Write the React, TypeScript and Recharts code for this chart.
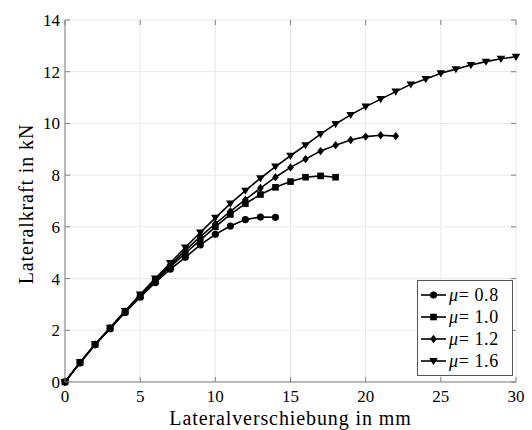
import { LineChart, Line, XAxis, YAxis, CartesianGrid, Legend } from 'recharts';

// displacement in mm (one sample per mm)
const displacement = [
  0, 1, 2, 3, 4, 5, 6, 7, 8, 9, 10, 11, 12, 13, 14, 15, 16, 17, 18, 19, 20, 21, 22, 23, 24, 25, 26, 27, 28, 29, 30,
];

// lateral force in kN per friction coefficient
const mu08 = [0, 0.74, 1.44, 2.06, 2.69, 3.28, 3.84, 4.36, 4.82, 5.3, 5.71, 6.03, 6.28, 6.38, 6.37];
const mu10 = [0, 0.75, 1.45, 2.08, 2.72, 3.32, 3.9, 4.45, 4.98, 5.49, 6.0, 6.48, 6.9, 7.25, 7.53, 7.75, 7.92, 7.97, 7.92];
const mu12 = [
  0, 0.75, 1.45, 2.09, 2.73, 3.35, 3.95, 4.52, 5.08, 5.62, 6.12, 6.6, 7.05, 7.5, 7.92, 8.3, 8.62, 8.93, 9.16, 9.36,
  9.49, 9.54, 9.51,
];
const mu16 = [
  0, 0.76, 1.46, 2.1, 2.75, 3.38, 4.0, 4.6, 5.2, 5.78, 6.35, 6.9, 7.4, 7.88, 8.33, 8.75, 9.16, 9.59, 9.98, 10.33,
  10.65, 10.94, 11.23, 11.51, 11.72, 11.94, 12.1, 12.26, 12.39, 12.5, 12.58,
];

const xTicks = [0, 5, 10, 15, 20, 25, 30];
const yTicks = [0, 2, 4, 6, 8, 10, 12, 14];

type Shape = 'circle' | 'square' | 'diamond' | 'triangle';

const series: { key: string; label: string; shape: Shape; values: number[] }[] = [
  { key: 'mu08', label: '0.8', shape: 'circle', values: mu08 },
  { key: 'mu10', label: '1.0', shape: 'square', values: mu10 },
  { key: 'mu12', label: '1.2', shape: 'diamond', values: mu12 },
  { key: 'mu16', label: '1.6', shape: 'triangle', values: mu16 },
];

const data = displacement.map((x, i) => {
  const row: Record<string, number | undefined> = { x };
  series.forEach((s) => {
    row[s.key] = s.values[i];
  });
  return row;
});

const FONT = "'Liberation Serif', 'DejaVu Serif', serif";
const AXIS = '#808080';
const PLOT = { left: 65, right: 516, top: 20, bottom: 382 };

function markerPath(shape: Shape, cx: number, cy: number) {
  switch (shape) {
    case 'circle':
      return <circle cx={cx} cy={cy} r={3.6} fill="#000" />;
    case 'square':
      return <rect x={cx - 3.3} y={cy - 3.3} width={6.6} height={6.6} fill="#000" />;
    case 'diamond':
      return <polygon points={`${cx},${cy - 4.2} ${cx + 3.3},${cy} ${cx},${cy + 4.2} ${cx - 3.3},${cy}`} fill="#000" />;
    default:
      return <polygon points={`${cx - 4.3},${cy - 3} ${cx + 4.3},${cy - 3} ${cx},${cy + 4.2}`} fill="#000" />;
  }
}

const makeDot = (shape: Shape) => (props: any) => {
  const { cx, cy, index } = props;
  if (cx == null || cy == null || Number.isNaN(cy)) return <g key={`e-${shape}-${index}`} />;
  return <g key={`d-${shape}-${index}`}>{markerPath(shape, cx, cy)}</g>;
};

function XTick(props: any) {
  const { x, payload } = props;
  return (
    <g>
      <line x1={x} x2={x} y1={PLOT.bottom} y2={PLOT.bottom - 5} stroke={AXIS} />
      <line x1={x} x2={x} y1={PLOT.top} y2={PLOT.top + 5} stroke={AXIS} />
      <text x={x} y={PLOT.bottom + 20} textAnchor="middle" style={{ fontFamily: FONT, fontSize: 17 }} fill="#000">
        {payload.value}
      </text>
    </g>
  );
}

function YTick(props: any) {
  const { y, payload } = props;
  return (
    <g>
      <line x1={PLOT.left} x2={PLOT.left + 5} y1={y} y2={y} stroke={AXIS} />
      <line x1={PLOT.right} x2={PLOT.right - 5} y1={y} y2={y} stroke={AXIS} />
      <text x={PLOT.left - 5} y={y + 6} textAnchor="end" style={{ fontFamily: FONT, fontSize: 17 }} fill="#000">
        {payload.value}
      </text>
    </g>
  );
}

function LegendBox() {
  return (
    <div
      style={{
        boxSizing: 'border-box',
        width: 96,
        height: 96,
        border: '1px solid #555',
        background: '#fff',
        paddingTop: 3,
        fontFamily: FONT,
        fontSize: 18,
        lineHeight: '22px',
      }}
    >
      {series.map((s) => (
        <div key={s.key} style={{ height: 22, display: 'flex', alignItems: 'center' }}>
          <svg width={29} height={16}>
            <line x1={3} x2={28} y1={8} y2={8} stroke="#000" strokeWidth={1.6} />
            {markerPath(s.shape, 15.5, 8)}
          </svg>
          <span style={{ marginLeft: 2, whiteSpace: 'nowrap', letterSpacing: 0.6 }}>
            <i>μ</i>= {s.label}
          </span>
        </div>
      ))}
    </div>
  );
}

export default function App() {
  return (
    <div style={{ position: 'absolute', left: 0, top: 0, width: 532, height: 430, background: '#fff' }}>
      <LineChart width={532} height={430} data={data} margin={{ top: 20, right: 16, bottom: 0, left: 0 }}>
        <CartesianGrid stroke="#e8e8e8" strokeWidth={1} />
        <XAxis
          dataKey="x"
          type="number"
          domain={[0, 30]}
          ticks={xTicks}
          height={48}
          stroke={AXIS}
          tickLine={false}
          tick={<XTick />}
          label={{
            content: (p: any) => (
              <text
                x={p.viewBox.x + p.viewBox.width / 2}
                y={p.viewBox.y + p.viewBox.height - 5}
                textAnchor="middle"
                style={{ fontFamily: FONT, fontSize: 20, letterSpacing: 0.9 }}
                fill="#000"
              >
                Lateralverschiebung in mm
              </text>
            ),
          }}
        />
        <XAxis xAxisId="top" orientation="top" type="number" domain={[0, 30]} height={0} stroke={AXIS} tick={false} tickLine={false} />
        <YAxis
          type="number"
          domain={[0, 14]}
          ticks={yTicks}
          width={65}
          stroke={AXIS}
          tickLine={false}
          tick={<YTick />}
          label={{
            content: (p: any) => (
              <text
                transform={`translate(${p.viewBox.x + 26}, ${p.viewBox.y + p.viewBox.height / 2 + 3}) rotate(-90)`}
                textAnchor="middle"
                dominantBaseline="central"
                style={{ fontFamily: FONT, fontSize: 20, letterSpacing: 0.9 }}
                fill="#000"
              >
                Lateralkraft in kN
              </text>
            ),
          }}
        />
        <YAxis yAxisId="right" orientation="right" type="number" domain={[0, 14]} width={0} stroke={AXIS} tick={false} tickLine={false} />
        {series.map((s) => (
          <Line
            key={s.key}
            dataKey={s.key}
            stroke="#000"
            strokeWidth={1.6}
            dot={makeDot(s.shape)}
            activeDot={false}
            isAnimationActive={false}
            type="linear"
          />
        ))}
        <Legend
          layout="vertical"
          align="center"
          verticalAlign="middle"
          wrapperStyle={{ left: 417, top: 280, width: 96, height: 96 }}
          content={() => <LegendBox />}
        />
      </LineChart>
    </div>
  );
}
